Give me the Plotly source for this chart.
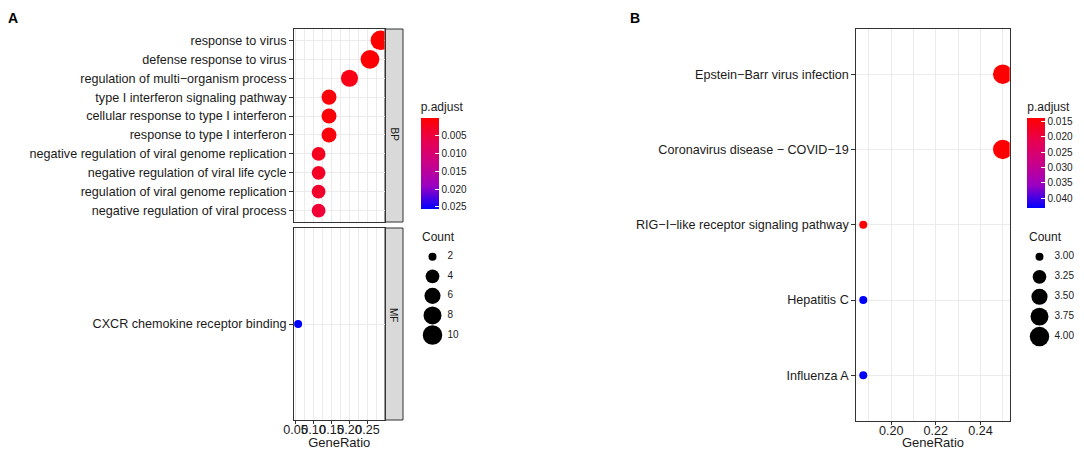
import math
import plotly.graph_objects as go

# the page body adds an 8px margin, so the figure is a bit smaller than the window
OFF = 8
W, H = 1076, 442

# ---- panel A: GO enrichment (BP / MF facets) ----
BP_TERMS = [
    "response to virus",
    "defense response to virus",
    "regulation of multi\u2212organism process",
    "type I interferon signaling pathway",
    "cellular response to type I interferon",
    "response to type I interferon",
    "negative regulation of viral genome replication",
    "negative regulation of viral life cycle",
    "regulation of viral genome replication",
    "negative regulation of viral process",
]
BP_RATIO = [0.286, 0.257, 0.200, 0.143, 0.143, 0.143, 0.114, 0.114, 0.114, 0.114]
BP_COUNT = [10, 9, 7, 5, 5, 5, 4, 4, 4, 4]
BP_PADJ = [0.00001, 0.0003, 0.0018, 0.0007, 0.0008, 0.0009, 0.0025, 0.0032, 0.0036, 0.0042]

MF_TERMS = ["CXCR chemokine receptor binding"]
MF_RATIO = [0.057]
MF_COUNT = [2]
MF_PADJ = [0.0256]

A_XTICKS = [0.05, 0.10, 0.15, 0.20, 0.25]
A_PTICKS = [0.005, 0.010, 0.015, 0.020, 0.025]
A_COUNT_BREAKS = [2, 4, 6, 8, 10]
A_COUNT_LABELS = ["2", "4", "6", "8", "10"]

# ---- panel B: KEGG enrichment ----
KEGG_TERMS = [
    "Epstein\u2212Barr virus infection",
    "Coronavirus disease \u2212 COVID\u221219",
    "RIG\u2212I\u2212like receptor signaling pathway",
    "Hepatitis C",
    "Influenza A",
]
KEGG_RATIO = [0.25, 0.25, 0.1875, 0.1875, 0.1875]
KEGG_COUNT = [4, 4, 3, 3, 3]
KEGG_PADJ = [0.0139, 0.0139, 0.0141, 0.0433, 0.0433]

B_XTICKS = [0.20, 0.22, 0.24]
B_PTICKS = [0.015, 0.020, 0.025, 0.030, 0.035, 0.040]
B_COUNT_BREAKS = [3.00, 3.25, 3.50, 3.75, 4.00]
B_COUNT_LABELS = ["3.00", "3.25", "3.50", "3.75", "4.00"]

# red -> blue interpolated in Lab like ggplot; colour value is -p.adjust so red sits on top
COLORSCALE = [[0, "#0000FF"], [0.25, "#9A00C3"], [0.5, "#CA0089"], [0.75, "#E8004F"], [1, "#FF0000"]]
TXT = "#1a1a1a"
GRID = "#EBEBEB"
BORDER = "#333333"
FONT = "Liberation Sans, Arial, sans-serif"
LABEL_SIZE = 12.6


def px_x(p):
    return (p - OFF) / W


def px_y(p):
    return 1 - (p - OFF) / H


def dot_size(vals, vmin, vmax, dmin=8.0, dmax=19.5):
    # ggplot scale_size: diameter linear in sqrt of rescaled value
    return [dmin + (dmax - dmin) * math.sqrt((v - vmin) / (vmax - vmin)) for v in vals]


def expand(lo, hi, mult=0.05):
    pad = (hi - lo) * mult
    return [lo - pad, hi + pad]


a_cmin = min(BP_COUNT + MF_COUNT)
a_cmax = max(BP_COUNT + MF_COUNT)
b_cmin = min(KEGG_COUNT)
b_cmax = max(KEGG_COUNT)

fig = go.Figure()

fig.add_trace(go.Scatter(
    x=BP_RATIO, y=BP_TERMS, mode="markers", xaxis="x", yaxis="y",
    marker=dict(size=dot_size(BP_COUNT, a_cmin, a_cmax), color=[-p for p in BP_PADJ],
                coloraxis="coloraxis", line=dict(width=0), opacity=1),
    showlegend=False,
))
fig.add_trace(go.Scatter(
    x=MF_RATIO, y=MF_TERMS, mode="markers", xaxis="x2", yaxis="y2",
    marker=dict(size=dot_size(MF_COUNT, a_cmin, a_cmax), color=[-p for p in MF_PADJ],
                coloraxis="coloraxis", line=dict(width=0), opacity=1),
    showlegend=False,
))
fig.add_trace(go.Scatter(
    x=KEGG_RATIO, y=KEGG_TERMS, mode="markers", xaxis="x3", yaxis="y3",
    marker=dict(size=dot_size(KEGG_COUNT, b_cmin, b_cmax), color=[-p for p in KEGG_PADJ],
                coloraxis="coloraxis2", line=dict(width=0), opacity=1),
    showlegend=False,
))

# size legends drawn as small hidden-axis scatters
for xa, ya, breaks, labels, lo, hi in [
    ("x4", "y4", A_COUNT_BREAKS, A_COUNT_LABELS, a_cmin, a_cmax),
    ("x5", "y5", B_COUNT_BREAKS, B_COUNT_LABELS, b_cmin, b_cmax),
]:
    fig.add_trace(go.Scatter(
        x=[0.25] * len(breaks), y=labels, mode="markers", xaxis=xa, yaxis=ya,
        marker=dict(size=dot_size(breaks, lo, hi), color="black", line=dict(width=0), opacity=1),
        showlegend=False, hoverinfo="skip", cliponaxis=False,
    ))
    fig.add_trace(go.Scatter(
        x=[0.55] * len(breaks), y=labels, mode="text", text=labels, textposition="middle right",
        textfont=dict(size=10, color=TXT, family=FONT), xaxis=xa, yaxis=ya,
        showlegend=False, hoverinfo="skip", cliponaxis=False,
    ))

a_range = expand(min(BP_RATIO + MF_RATIO), max(BP_RATIO + MF_RATIO))
b_range = expand(min(KEGG_RATIO), max(KEGG_RATIO))

A_X0, A_X1 = 294, 384.5
B_X0, B_X1 = 856.3, 1009.7

common_y = dict(
    type="category", showgrid=True, gridcolor=GRID, gridwidth=1, zeroline=False,
    showline=True, linecolor=BORDER, linewidth=1, mirror=True, automargin=False,
    ticks="outside", ticklen=4, tickcolor=BORDER,
    tickfont=dict(size=LABEL_SIZE, color=TXT, family=FONT),
)
common_x = dict(
    showgrid=True, gridcolor=GRID, gridwidth=1, zeroline=False,
    showline=True, linecolor=BORDER, linewidth=1, mirror=True, tickangle=0, automargin=False,
    tickfont=dict(size=LABEL_SIZE, color=TXT, family=FONT),
)
x_title = dict(text="GeneRatio", font=dict(size=13, color=TXT, family=FONT), standoff=4)

fig.update_layout(
    width=W, height=H, autosize=False,
    margin=dict(l=0, r=0, t=0, b=0),
    paper_bgcolor="white", plot_bgcolor="white",
    font=dict(family=FONT, color=TXT),
    xaxis=dict(common_x, domain=[px_x(A_X0), px_x(A_X1)], anchor="y", range=a_range,
               tickvals=A_XTICKS, showticklabels=False, ticks="",
               minor=dict(dtick=0.025, tick0=0, showgrid=True, gridcolor=GRID, gridwidth=0.5)),
    yaxis=dict(common_y, domain=[px_y(222), px_y(29)], anchor="x",
               categoryorder="array", categoryarray=BP_TERMS[::-1],
               range=[-0.6, len(BP_TERMS) - 0.4]),
    xaxis2=dict(common_x, domain=[px_x(A_X0), px_x(A_X1)], anchor="y2", range=a_range,
                tickvals=A_XTICKS, ticktext=[f"{v:.2f}" for v in A_XTICKS],
                ticks="outside", ticklen=3, tickcolor=BORDER, ticklabelstandoff=-5,
                minor=dict(dtick=0.025, tick0=0, showgrid=True, gridcolor=GRID, gridwidth=0.5),
                title=x_title),
    yaxis2=dict(common_y, domain=[px_y(420), px_y(228)], anchor="x2",
                categoryorder="array", categoryarray=MF_TERMS[::-1],
                range=[-0.6, len(MF_TERMS) - 0.4]),
    xaxis3=dict(common_x, domain=[px_x(B_X0), px_x(B_X1)], anchor="y3", range=b_range,
                tickvals=B_XTICKS, ticktext=[f"{v:.2f}" for v in B_XTICKS],
                ticks="outside", ticklen=3, tickcolor=BORDER, ticklabelstandoff=-5,
                minor=dict(dtick=0.01, tick0=0, showgrid=True, gridcolor=GRID, gridwidth=0.5),
                title=x_title),
    yaxis3=dict(common_y, domain=[px_y(420.5), px_y(29)], anchor="x3",
                categoryorder="array", categoryarray=KEGG_TERMS[::-1],
                range=[-0.6, len(KEGG_TERMS) - 0.4]),
    xaxis4=dict(domain=[px_x(420), px_x(470)], anchor="y4", range=[0, 1], visible=False,
                automargin=False),
    yaxis4=dict(domain=[px_y(344.8), px_y(246.9)], anchor="x4", type="category",
                categoryorder="array", categoryarray=A_COUNT_LABELS[::-1],
                range=[-0.5, len(A_COUNT_LABELS) - 0.5], visible=False, automargin=False),
    xaxis5=dict(domain=[px_x(1027), px_x(1077)], anchor="y5", range=[0, 1], visible=False,
                automargin=False),
    yaxis5=dict(domain=[px_y(346.5), px_y(246.9)], anchor="x5", type="category",
                categoryorder="array", categoryarray=B_COUNT_LABELS[::-1],
                range=[-0.5, len(B_COUNT_LABELS) - 0.5], visible=False, automargin=False),
    coloraxis=dict(
        colorscale=COLORSCALE,
        cmin=-max(BP_PADJ + MF_PADJ), cmax=-min(BP_PADJ + MF_PADJ),
        colorbar=dict(
            title=dict(text="p.adjust", side="top", font=dict(size=12, color=TXT, family=FONT)),
            thicknessmode="pixels", thickness=18, lenmode="pixels", len=110,
            x=px_x(420.7), xanchor="left", xpad=0,
            y=px_y(154), yanchor="middle", ypad=0,
            tickvals=[-v for v in A_PTICKS], ticktext=[f"{v:.3f}" for v in A_PTICKS],
            ticks="inside", ticklen=4, tickcolor="white", tickwidth=1,
            tickfont=dict(size=10, color=TXT, family=FONT),
            outlinewidth=0,
        ),
    ),
    coloraxis2=dict(
        colorscale=COLORSCALE,
        cmin=-max(KEGG_PADJ), cmax=-min(KEGG_PADJ),
        colorbar=dict(
            title=dict(text="p.adjust", side="top", font=dict(size=12, color=TXT, family=FONT)),
            thicknessmode="pixels", thickness=18, lenmode="pixels", len=109,
            x=px_x(1027.3), xanchor="left", xpad=0,
            y=px_y(153.8), yanchor="middle", ypad=0,
            tickvals=[-v for v in B_PTICKS], ticktext=[f"{v:.3f}" for v in B_PTICKS],
            ticks="inside", ticklen=4, tickcolor="white", tickwidth=1,
            tickfont=dict(size=10, color=TXT, family=FONT),
            outlinewidth=0,
        ),
    ),
)

# facet strips for panel A
for y0, y1, lab in [(29, 222, "BP"), (228, 420, "MF")]:
    fig.add_shape(type="rect", xref="paper", yref="paper",
                  x0=px_x(385), x1=px_x(403), y0=px_y(y1), y1=px_y(y0),
                  fillcolor="#D9D9D9", line=dict(color=BORDER, width=1), layer="below")
    fig.add_annotation(x=px_x(394), y=px_y((y0 + y1) / 2), xref="paper", yref="paper",
                       text=lab, textangle=90, showarrow=False,
                       font=dict(size=10, color=TXT, family=FONT))

# legend titles and panel letters
for x, y, txt in [(420, 237, "Count"), (1027, 237, "Count")]:
    fig.add_annotation(x=px_x(x), y=px_y(y), xref="paper", yref="paper", text=txt,
                       showarrow=False, xanchor="left", yanchor="middle",
                       font=dict(size=12, color=TXT, family=FONT))
for x, txt in [(6, "A"), (628, "B")]:
    fig.add_annotation(x=px_x(x), y=1, xref="paper", yref="paper", text=f"<b>{txt}</b>",
                       showarrow=False, xanchor="left", yanchor="top",
                       font=dict(size=14, color="black", family=FONT))

fig.write_html("out.html")
